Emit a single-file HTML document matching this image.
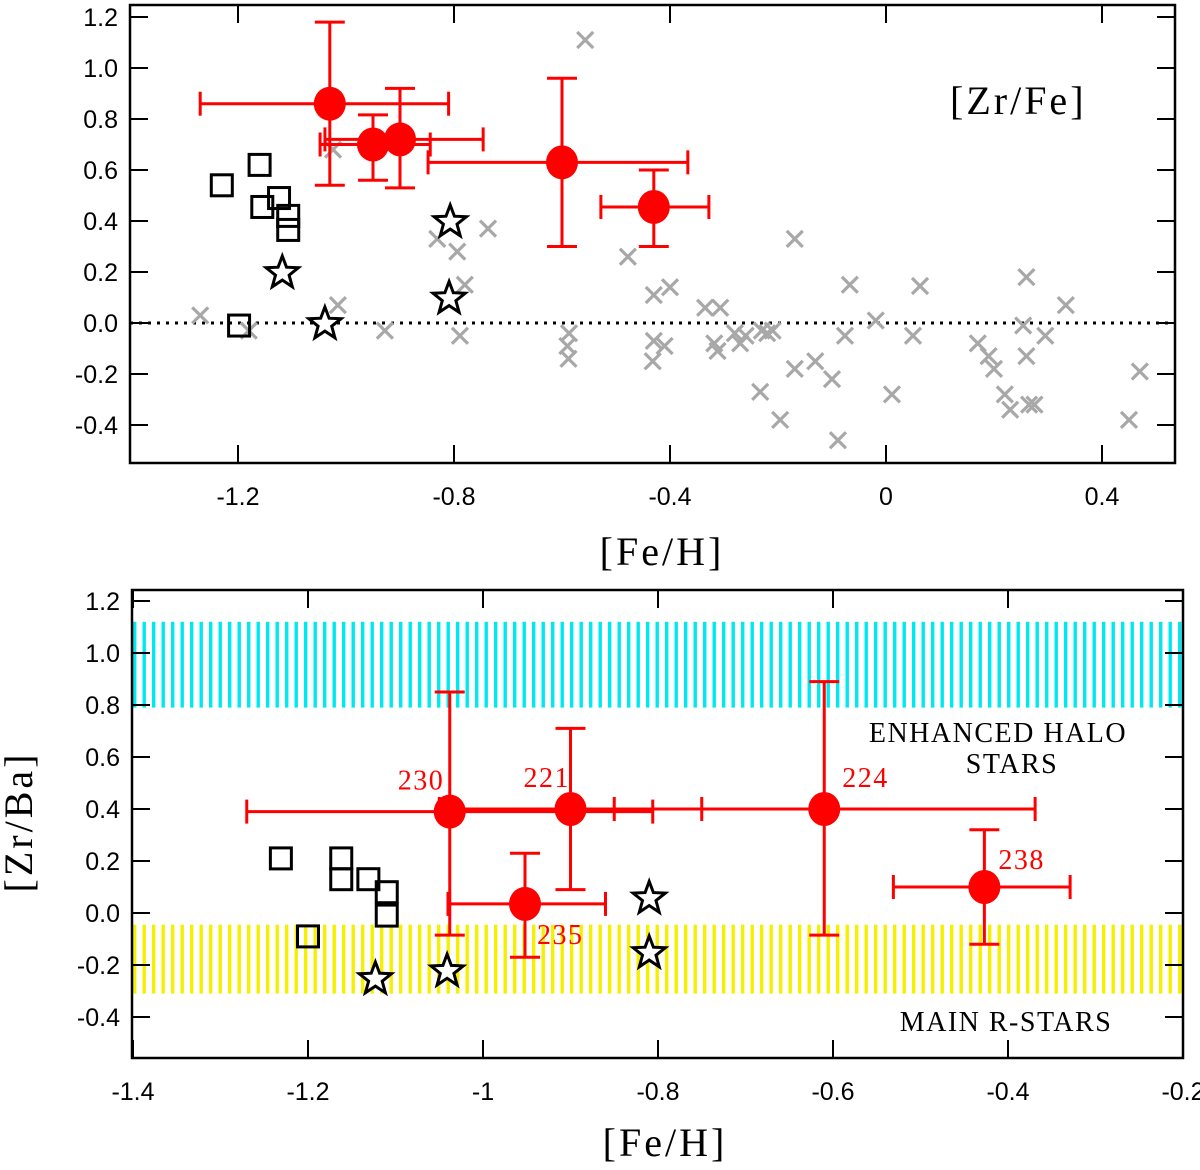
<!DOCTYPE html>
<html><head><meta charset="utf-8"><style>
html,body{margin:0;padding:0;background:#fff;}
svg{display:block;}
.tick{font-family:"Liberation Sans",sans-serif;font-size:25px;fill:#000;}
.title{font-family:"Liberation Serif",serif;font-size:40px;fill:#000;letter-spacing:3px;}
.lab{font-family:"Liberation Serif",serif;font-size:28px;letter-spacing:1.5px;}
</style></head><body>
<svg id="chart" width="1200" height="1170" viewBox="0 0 1200 1170" xmlns="http://www.w3.org/2000/svg">
<defs>
<pattern id="cyanStripes" patternUnits="userSpaceOnUse" width="9.5" height="10"><rect x="0" y="0" width="3.4" height="10" fill="#00e8f0"/></pattern>
<pattern id="yellowStripes" patternUnits="userSpaceOnUse" width="9.5" height="10"><rect x="0" y="0" width="3.4" height="10" fill="#f5f000"/></pattern>
</defs>
<g id="top"></g>
<g id="bot"></g>
</svg>
<script>
// ---------- data: top panel [Zr/Fe] ----------
const topRedX = [-1.03, -0.95, -0.90, -0.60, -0.43];
const topRedY = [0.86, 0.70, 0.72, 0.63, 0.455];
const topRedXlo = [-1.27, -1.048, -1.039, -0.848, -0.528];
const topRedXhi = [-0.81, -0.844, -0.746, -0.367, -0.328];
const topRedYlo = [0.54, 0.56, 0.53, 0.30, 0.30];
const topRedYhi = [1.18, 0.816, 0.92, 0.96, 0.60];
const topSqX = [-1.23, -1.16, -1.155, -1.124, -1.107, -1.107, -1.198];
const topSqY = [0.54, 0.62, 0.455, 0.49, 0.42, 0.365, -0.01];
const topStarX = [-1.118, -1.039, -0.807, -0.809];
const topStarY = [0.20, 0.0, 0.40, 0.10];
const greyX = [-1.27,-1.18,-1.015,-1.024,-0.928,-0.831,-0.794,-0.78,-0.789,-0.737,-0.557,-0.478,-0.587,-0.59,-0.588,-0.43,-0.40,-0.43,-0.432,-0.41,-0.335,-0.307,-0.318,-0.312,-0.28,-0.27,-0.26,-0.23,-0.22,-0.21,-0.233,-0.196,-0.169,-0.169,-0.131,-0.10,-0.089,-0.067,-0.076,-0.019,0.011,0.05,0.063,0.17,0.19,0.20,0.22,0.23,0.254,0.26,0.26,0.265,0.275,0.295,0.333,0.45,0.47];
const greyY = [0.03,-0.03,0.07,0.68,-0.03,0.33,0.28,0.15,-0.05,0.37,1.11,0.26,-0.04,-0.09,-0.14,0.11,0.14,-0.07,-0.15,-0.09,0.06,0.06,-0.08,-0.11,-0.04,-0.08,-0.05,-0.03,-0.04,-0.03,-0.27,-0.38,0.33,-0.18,-0.15,-0.22,-0.46,0.15,-0.05,0.01,-0.28,-0.05,0.145,-0.08,-0.13,-0.18,-0.28,-0.34,-0.01,0.18,-0.13,-0.32,-0.32,-0.05,0.07,-0.38,-0.19];
const topXTicks = [-1.2, -0.8, -0.4, 0, 0.4];
const topXTickLabels = ["-1.2", "-0.8", "-0.4", "0", "0.4"];
const topYTicks = [-0.4, -0.2, 0, 0.2, 0.4, 0.6, 0.8, 1.0, 1.2];
const topYTickLabels = ["-0.4", "-0.2", "0.0", "0.2", "0.4", "0.6", "0.8", "1.0", "1.2"];

// ---------- data: bottom panel [Zr/Ba] ----------
const botRedNames = ["230", "221", "235", "224", "238"];
const botRedX = [-1.038, -0.90, -0.952, -0.61, -0.427];
const botRedY = [0.39, 0.40, 0.035, 0.40, 0.10];
const botRedXlo = [-1.27, -1.05, -1.04, -0.85, -0.531];
const botRedXhi = [-0.806, -0.75, -0.86, -0.369, -0.329];
const botRedYlo = [-0.085, 0.09, -0.17, -0.085, -0.12];
const botRedYhi = [0.85, 0.71, 0.23, 0.89, 0.32];
const botSqX = [-1.231, -1.162, -1.162, -1.131, -1.11, -1.11, -1.2];
const botSqY = [0.21, 0.21, 0.13, 0.13, 0.08, -0.01, -0.09];
const botStarX = [-1.123, -1.041, -0.81, -0.81];
const botStarY = [-0.25, -0.22, 0.06, -0.15];
const bandCyan = [0.79, 1.12];
const bandYellow = [-0.31, -0.045];
const botXTicks = [-1.4, -1.2, -1, -0.8, -0.6, -0.4, -0.2];
const botXTickLabels = ["-1.4", "-1.2", "-1", "-0.8", "-0.6", "-0.4", "-0.2"];
const botYTicks = [-0.4, -0.2, 0, 0.2, 0.4, 0.6, 0.8, 1.0, 1.2];
const botYTickLabels = ["-0.4", "-0.2", "0.0", "0.2", "0.4", "0.6", "0.8", "1.0", "1.2"];

const NS = "http://www.w3.org/2000/svg";
function mk(parent, tag, attrs, text) {
  const e = document.createElementNS(NS, tag);
  for (const k in attrs) e.setAttribute(k, attrs[k]);
  if (text !== undefined) e.textContent = text;
  parent.appendChild(e);
  return e;
}
function lin(d0, d1, r0, r1) { return v => r0 + (v - d0) * (r1 - r0) / (d1 - d0); }

function starPts(cx, cy, R) {
  const r = R * 0.42; let p = [];
  for (let i = 0; i < 10; i++) {
    const a = -Math.PI / 2 + i * Math.PI / 5, rr = i % 2 ? r : R;
    p.push((cx + rr * Math.cos(a)).toFixed(1) + "," + (cy + rr * Math.sin(a)).toFixed(1));
  }
  return p.join(" ");
}

function errBar(g, sx, sy, x, y, xlo, xhi, ylo, yhi) {
  const st = {stroke: "#f00", "stroke-width": 3, fill: "none"};
  const c = 12;
  let e;
  e = mk(g, "line", Object.assign({x1: sx(xlo), x2: sx(xhi), y1: sy(y), y2: sy(y)}, st));
  
  
  e = mk(g, "line", Object.assign({x1: sx(x), x2: sx(x), y1: sy(ylo), y2: sy(yhi)}, st));
  
  
  [xlo, xhi].forEach(v => { mk(g, "line", Object.assign({x1: sx(v), x2: sx(v), y1: sy(y) - c, y2: sy(y) + c}, st)); });
  [ylo, yhi].forEach(v => { mk(g, "line", Object.assign({x1: sx(x) - 15, x2: sx(x) + 15, y1: sy(v), y2: sy(v)}, st)); });
}

function axes(g, L, T, R, B, sx, sy, xt, xtl, yt, ytl) {
  xt.forEach((v, i) => {
    const X = sx(v);
    mk(g, "line", {x1: X, x2: X, y1: B, y2: B - 18, stroke: "#000", "stroke-width": 2});
    mk(g, "line", {x1: X, x2: X, y1: T, y2: T + 18, stroke: "#000", "stroke-width": 2});
    const t = mk(g, "text", {x: X, y: B + 42, "text-anchor": "middle", class: "tick"}, xtl[i]);
    
    
  });
  yt.forEach((v, i) => {
    const Y = sy(v);
    mk(g, "line", {x1: L, x2: L + 18, y1: Y, y2: Y, stroke: "#000", "stroke-width": 2});
    mk(g, "line", {x1: R, x2: R - 18, y1: Y, y2: Y, stroke: "#000", "stroke-width": 2});
    const t = mk(g, "text", {x: L - 12, y: Y + 9, "text-anchor": "end", class: "tick"}, ytl[i]);
    
    
  });
  const f = mk(g, "rect", {x: L, y: T, width: R - L, height: B - T, fill: "none", stroke: "#000", "stroke-width": 2.5});
  
  
}

function drawSquares(g, sx, sy, xs, ys) {
  xs.forEach((x, i) => {
    const s = mk(g, "rect", {x: sx(x) - 10.5, y: sy(ys[i]) - 10.5, width: 21, height: 21, fill: "none", stroke: "#000", "stroke-width": 3});
    
    
  });
}
function drawStars(g, sx, sy, xs, ys) {
  xs.forEach((x, i) => {
    const s = mk(g, "polygon", {points: starPts(sx(x), sy(ys[i]) + 1, 17), fill: "#fff", stroke: "#000", "stroke-width": 3, "stroke-linejoin": "miter"});
    
    
  });
}
function drawRed(g, sx, sy, xs, ys, xlo, xhi, ylo, yhi) {
  xs.forEach((x, i) => errBar(g, sx, sy, x, ys[i], xlo[i], xhi[i], ylo[i], yhi[i]));
  xs.forEach((x, i) => {
    const c = mk(g, "ellipse", {cx: sx(x), cy: sy(ys[i]), rx: 16, ry: 17, fill: "#f00"});
    
    
  });
}

// ---------- top panel ----------
(function () {
  const g = document.getElementById("top");
  const L = 130, R = 1175, T = 5, B = 463;
  const sx = lin(0, 0.4, 886, 1102);
  const sy = lin(0, 1.2, 323, 17);
  const zl = mk(g, "line", {x1: L, x2: R, y1: sy(0), y2: sy(0), stroke: "#000", "stroke-width": 3, "stroke-dasharray": "3,6"});
  
  
  greyX.forEach((x, i) => {
    const X = sx(x), Y = sy(greyY[i]), d = 8;
    const p = mk(g, "path", {d: `M${X-d},${Y-d}L${X+d},${Y+d}M${X-d},${Y+d}L${X+d},${Y-d}`, stroke: "#a8a8a8", "stroke-width": 3.2, fill: "none"});
    
    
  });
  drawSquares(g, sx, sy, topSqX, topSqY);
  drawStars(g, sx, sy, topStarX, topStarY);
  drawRed(g, sx, sy, topRedX, topRedY, topRedXlo, topRedXhi, topRedYlo, topRedYhi);
  axes(g, L, T, R, B, sx, sy, topXTicks, topXTickLabels, topYTicks, topYTickLabels);
  let t = mk(g, "text", {x: 950, y: 114, class: "title"}, "[Zr/Fe]");
  
  
  t = mk(g, "text", {x: 662, y: 565, "text-anchor": "middle", class: "title"}, "[Fe/H]");
  
  
})();

// ---------- bottom panel ----------
(function () {
  const g = document.getElementById("bot");
  const L = 132, R = 1183, T = 590, B = 1058;
  const sx = lin(-1.4, -0.2, 133, 1183);
  const sy = lin(0, 1.2, 913, 601);
  let b = mk(g, "rect", {x: L + 1, y: sy(bandCyan[1]), width: R - L - 2, height: sy(bandCyan[0]) - sy(bandCyan[1]), fill: "url(#cyanStripes)"});
  
  
  b = mk(g, "rect", {x: L + 1, y: sy(bandYellow[1]), width: R - L - 2, height: sy(bandYellow[0]) - sy(bandYellow[1]), fill: "url(#yellowStripes)"});
  
  
  drawSquares(g, sx, sy, botSqX, botSqY);
  drawStars(g, sx, sy, botStarX, botStarY);
  drawRed(g, sx, sy, botRedX, botRedY, botRedXlo, botRedXhi, botRedYlo, botRedYhi);
  const off = [[-52, -22], [-47, -22], [12, 40], [18, -22], [14, -18]];
  botRedNames.forEach((n, i) => {
    const t = mk(g, "text", {x: sx(botRedX[i]) + off[i][0], y: sy(botRedY[i]) + off[i][1], class: "lab", fill: "#f00"}, n);
    
    
  });
  axes(g, L, T, R, B, sx, sy, botXTicks, botXTickLabels, botYTicks, botYTickLabels);
  let t = mk(g, "text", {x: 998, y: 742, "text-anchor": "middle", class: "lab", fill: "#000"}, "ENHANCED HALO");
  
  
  t = mk(g, "text", {x: 1012, y: 773, "text-anchor": "middle", class: "lab", fill: "#000"}, "STARS");
  
  
  t = mk(g, "text", {x: 1006, y: 1031, "text-anchor": "middle", class: "lab", fill: "#000"}, "MAIN R-STARS");
  
  
  t = mk(g, "text", {x: 665, y: 1156, "text-anchor": "middle", class: "title"}, "[Fe/H]");
  
  
  t = mk(g, "text", {x: 0, y: 0, "text-anchor": "middle", class: "title", transform: "translate(32,822) rotate(-90)"}, "[Zr/Ba]");
  
  
})();
</script>
</body></html>
